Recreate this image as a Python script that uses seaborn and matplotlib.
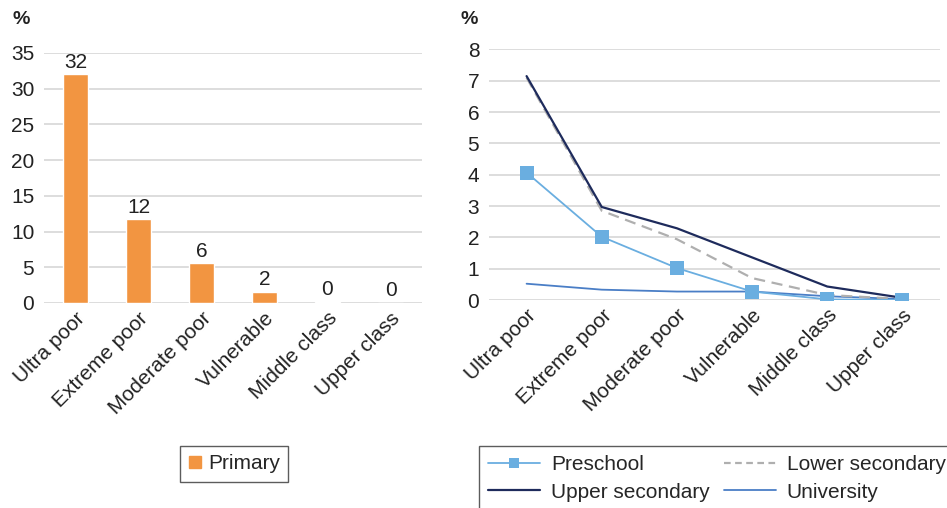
import pandas as pd
import matplotlib
matplotlib.use("Agg")
import matplotlib.pyplot as plt
import seaborn as sns
from matplotlib.lines import Line2D

categories = ['Ultra poor', 'Extreme poor', 'Moderate poor', 'Vulnerable', 'Middle class', 'Upper class']
primary = [32, 11.7, 5.55, 1.55, 0.15, 0.03]
preschool = [4.07, 2.02, 1.02, 0.27, 0.02, 0.0]
lower_secondary = [7.1, 2.85, 1.94, 0.7, 0.16, 0.03]
upper_secondary = [7.15, 2.97, 2.29, 1.36, 0.43, 0.07]
university = [0.52, 0.33, 0.27, 0.27, 0.12, 0.03]

sns.set_theme(style="white")
plt.rcParams['font.family'] = ['Liberation Sans', 'DejaVu Sans']

orange = '#F29541'
grid_c = '#D3D3D3'
text_c = '#222222'
fs = 15

fig = plt.figure(figsize=(9.47, 5.08), dpi=100)
W, H = 947, 508
ax1 = fig.add_axes([44 / W, 1 - 303 / H, 378 / W, 250 / H])
ax2 = fig.add_axes([489 / W, 1 - 300 / H, 451 / W, 250.5 / H])

# left: bars
df_bar = pd.DataFrame({'cat': categories, 'val': primary})
sns.barplot(data=df_bar, x='cat', y='val', color=orange, width=0.4, ax=ax1, saturation=1)
ax1.bar_label(ax1.containers[0], fmt='%.0f', fontsize=fs, color=text_c, padding=2)
ax1.set_ylim(0, 35)
ax1.set_yticks(range(0, 36, 5))

# right: lines
df_line = pd.DataFrame({'cat': categories, 'Preschool': preschool, 'Lower secondary': lower_secondary,
                        'Upper secondary': upper_secondary, 'University': university})
sns.lineplot(data=df_line, x='cat', y='University', color='#4A7EC6', lw=1.3, ax=ax2, sort=False)
sns.lineplot(data=df_line, x='cat', y='Lower secondary', color='#AFAFAF', lw=1.6, ls=(0, (5, 3)), ax=ax2, sort=False)
sns.lineplot(data=df_line, x='cat', y='Upper secondary', color='#1E2B5C', lw=1.6, ax=ax2, sort=False)
sns.lineplot(data=df_line, x='cat', y='Preschool', color='#6AAEE0', lw=1.3, marker='s', markersize=10,
             markeredgewidth=0, ax=ax2, sort=False)
ax2.set_ylim(0, 8)
ax2.set_yticks(range(0, 9))
ax2.set_xlim(-0.5, 5.5)

for ax in (ax1, ax2):
    ax.set_xlabel('')
    ax.set_ylabel('')
    sns.despine(ax=ax, left=True, bottom=True, top=True, right=True)
    ax.grid(axis='y', color=grid_c, lw=1.1)
    ax.set_axisbelow(True)
    ax.tick_params(axis='y', length=0, labelsize=fs, colors=text_c, pad=7)
    ax.tick_params(axis='x', length=0, labelsize=fs, colors=text_c, pad=4)
    ax.set_xticks(range(len(categories)))
    ax.set_xticklabels(categories, rotation=45, ha='right', rotation_mode='anchor')

fig.text(12 / W, 1 - 20 / H, '%', fontsize=14, fontweight='bold', color=text_c, va='center')
fig.text(460 / W, 1 - 20 / H, '%', fontsize=14, fontweight='bold', color=text_c, va='center')

h_primary = [Line2D([], [], ls='none', marker='s', color=orange, markersize=8)]
fig.legend(h_primary, ['Primary'], loc='upper left', bbox_to_anchor=(180 / W, 1 - 446 / H),
           frameon=True, fancybox=False, edgecolor='#333333', fontsize=fs, handlelength=0.6,
           handletextpad=0.35, borderpad=0.4, borderaxespad=0)

h_lines = [
    Line2D([], [], color='#6AAEE0', lw=1.3, marker='s', markersize=7, markeredgewidth=0),
    Line2D([], [], color='#1E2B5C', lw=1.6),
    Line2D([], [], color='#AFAFAF', lw=1.6, ls=(0, (3, 2))),
    Line2D([], [], color='#4A7EC6', lw=1.3),
]
fig.legend(h_lines, ['Preschool', 'Upper secondary', 'Lower secondary', 'University'], ncol=2,
           loc='upper left', bbox_to_anchor=(479 / W, 1 - 446 / H), frameon=True, fancybox=False,
           edgecolor='#333333', fontsize=fs, handlelength=2.5, handletextpad=0.5,
           columnspacing=0.7, labelspacing=0.4, borderpad=0.45, borderaxespad=0)

fig.savefig('out.png', dpi=100)
